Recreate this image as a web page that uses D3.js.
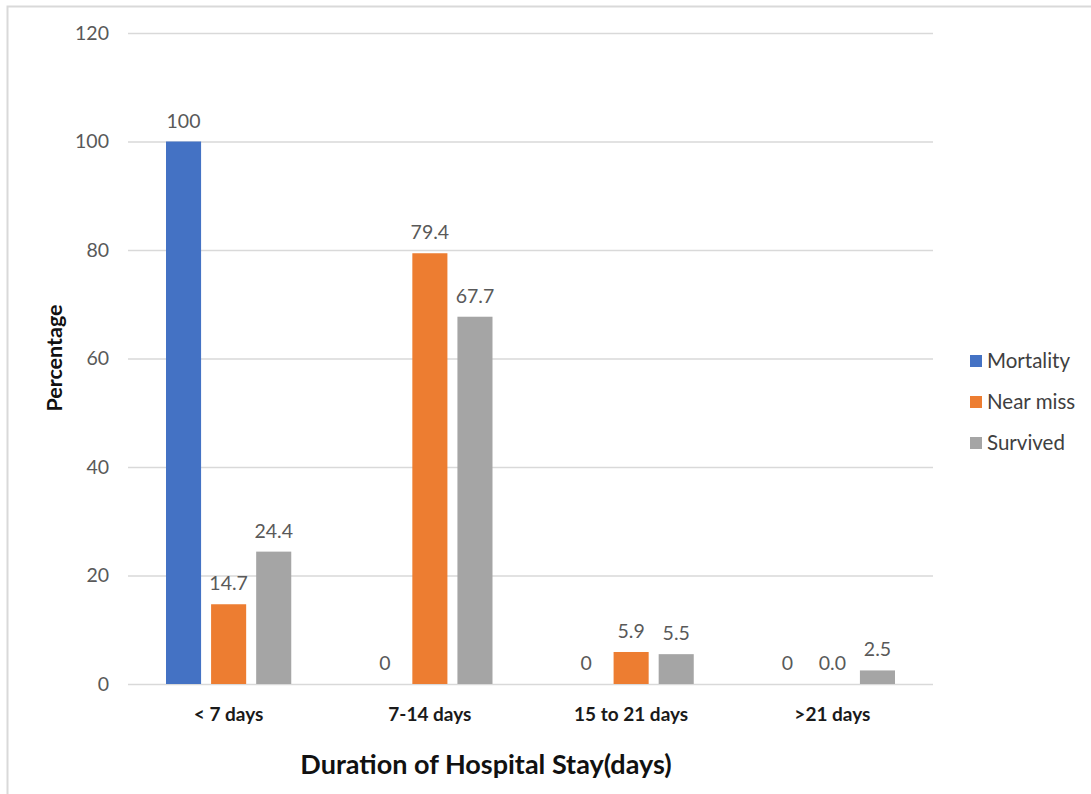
<!DOCTYPE html>
<html>
<head>
<meta charset="utf-8">
<script src="https://cdn.jsdelivr.net/npm/d3@7"></script>
<style>
  html, body { margin: 0; padding: 0; background: #fff; }
  svg { display: block; }
  text { font-family: Lato, "Open Sans", "Liberation Sans", sans-serif; }
</style>
</head>
<body>
<svg id="chart" width="1091" height="794"></svg>
<script>
// Hospital stay duration by outcome group (percent)
const categories = ["< 7 days", "7-14 days", "15 to 21 days", ">21 days"];
const seriesNames = ["Mortality", "Near miss", "Survived"];
const mortality = [100, 0, 0, 0];
const nearMiss = [14.7, 79.4, 5.9, 0.0];
const survived = [24.4, 67.7, 5.5, 2.5];
const valueLabels = [
  ["100", "14.7", "24.4"],
  ["0", "79.4", "67.7"],
  ["0", "5.9", "5.5"],
  ["0", "0.0", "2.5"]
];
const yTicks = [0, 20, 40, 60, 80, 100, 120];
const colors = ["#4472C4", "#ED7D31", "#A5A5A5"];

const svg = d3.select("#chart");
const W = 1091, H = 794;

// outer chart frame (top/left edges visible)
svg.append("rect")
  .attr("x", 7.5).attr("y", 6.5)
  .attr("width", W + 10).attr("height", H + 10)
  .attr("fill", "#fff").attr("stroke", "#d9d9d9").attr("stroke-width", 2);

const plot = { left: 128, right: 933, top: 33, bottom: 684 };

const x0 = d3.scaleBand().domain(categories).range([plot.left, plot.right]).paddingInner(0).paddingOuter(0);
const x1 = d3.scaleBand().domain(seriesNames).range([38, x0.bandwidth() - 38]).paddingInner(0.222).paddingOuter(0);
const y = d3.scaleLinear().domain([0, 120]).range([plot.bottom, plot.top]);

// gridlines
svg.append("g")
  .selectAll("line").data(yTicks).join("line")
  .attr("x1", plot.left).attr("x2", plot.right)
  .attr("y1", d => y(d) + 0.5).attr("y2", d => y(d) + 0.5)
  .attr("stroke", "#d9d9d9").attr("stroke-width", 1.5);

// y tick labels
svg.append("g")
  .selectAll("text").data(yTicks).join("text")
  .attr("x", 109).attr("y", d => y(d))
  .attr("dy", "0.35em")
  .attr("text-anchor", "end")
  .attr("font-size", 19.5).attr("fill", "#595959")
  .text(d => d);

const rows = categories.map((c, i) => ({
  cat: c,
  vals: [mortality[i], nearMiss[i], survived[i]],
  labels: valueLabels[i]
}));

const groups = svg.append("g").selectAll("g").data(rows).join("g")
  .attr("transform", d => `translate(${x0(d.cat)},0)`);

groups.selectAll("rect").data(d => d.vals.map((v, j) => ({ v, s: seriesNames[j], j })))
  .join("rect")
  .attr("x", d => x1(d.s))
  .attr("width", x1.bandwidth())
  .attr("y", d => y(d.v))
  .attr("height", d => y(0) - y(d.v))
  .attr("fill", d => colors[d.j]);

groups.selectAll("text").data(d => d.vals.map((v, j) => ({ v, s: seriesNames[j], lab: d.labels[j] })))
  .join("text")
  .attr("x", d => x1(d.s) + x1.bandwidth() / 2)
  .attr("y", d => y(d.v) - 14)
  .attr("text-anchor", "middle")
  .attr("font-size", 19.5).attr("fill", "#595959")
  .text(d => d.lab);

// category labels
svg.append("g").selectAll("text").data(categories).join("text")
  .attr("x", d => x0(d) + x0.bandwidth() / 2)
  .attr("y", 721)
  .attr("text-anchor", "middle")
  .attr("font-size", 19).attr("font-weight", "bold").attr("fill", "#1a1a1a")
  .text(d => d);

// axis titles
svg.append("text")
  .attr("x", 486).attr("y", 774)
  .attr("text-anchor", "middle")
  .attr("font-size", 27).attr("font-weight", "bold").attr("fill", "#111")
  .text("Duration of Hospital Stay(days)");

svg.append("text")
  .attr("transform", "translate(62,358) rotate(-90)")
  .attr("text-anchor", "middle")
  .attr("font-size", 21.5).attr("font-weight", "bold").attr("fill", "#111")
  .text("Percentage");

// legend
const legend = svg.append("g").selectAll("g").data(seriesNames).join("g")
  .attr("transform", (d, i) => `translate(970,${361 + i * 41})`);
legend.append("rect").attr("x", 0).attr("y", -6).attr("width", 12).attr("height", 12)
  .attr("fill", (d, i) => colors[i]);
legend.append("text").attr("x", 17).attr("y", 0).attr("dy", "0.35em")
  .attr("font-size", 20.5).attr("fill", "#404040")
  .text(d => d);
</script>
</body>
</html>
